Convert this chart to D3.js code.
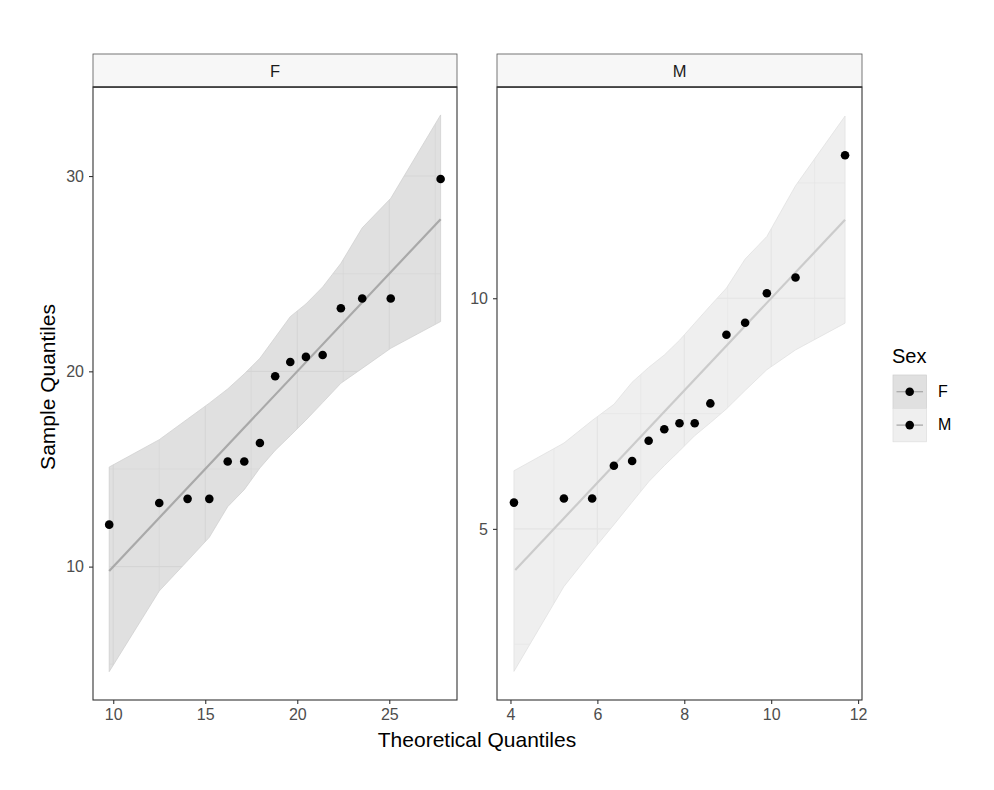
<!DOCTYPE html>
<html>
<head>
<meta charset="utf-8">
<script src="https://cdn.jsdelivr.net/npm/d3@7"></script>
<style>
  body { margin: 0; background: #fff; }
  svg { font-family: "Liberation Sans", Arial, sans-serif; }
</style>
</head>
<body>
<div id="chart"></div>
<script>
'use strict';

// ---- data ----
const facets = ["F", "M"];

const theoF   = [9.78, 12.5, 14.04, 15.22, 16.22, 17.12, 17.97, 18.80, 19.62, 20.47, 21.38, 22.37, 23.53, 25.08, 27.79];
const sampleF = [12.15, 13.26, 13.47, 13.47, 15.38, 15.38, 16.33, 19.75, 20.48, 20.74, 20.84, 23.23, 23.73, 23.73, 29.85];
const upperF  = [15.1, 16.5, 17.56, 18.37, 19.1, 19.87, 20.67, 21.74, 22.8, 23.45, 24.32, 25.53, 27.35, 28.86, 33.13];
const lowerF  = [4.62, 8.75, 10.3, 11.5, 13.07, 13.94, 15.05, 15.95, 16.7, 17.5, 18.4, 19.39, 20.15, 21.18, 22.55];
const lineF   = [9.78, 27.79];

const theoM   = [4.08, 5.23, 5.88, 6.38, 6.80, 7.18, 7.54, 7.89, 8.24, 8.60, 8.97, 9.40, 9.90, 10.56, 11.70];
const sampleM = [5.57, 5.66, 5.66, 6.37, 6.47, 6.91, 7.16, 7.29, 7.29, 7.72, 9.21, 9.47, 10.11, 10.45, 13.10];
const upperM  = [6.26, 6.86, 7.35, 7.7, 8.18, 8.5, 8.77, 9.09, 9.46, 9.84, 10.22, 10.85, 11.34, 12.44, 13.95];
const lowerM  = [1.91, 3.75, 4.52, 5.09, 5.58, 6.02, 6.37, 6.69, 7.02, 7.30, 7.60, 8.0, 8.45, 8.88, 9.46];
const lineM   = [4.11, 11.70];

const xDomainF = [8.9, 28.68],  yDomainF = [3.17, 34.56];
const xDomainM = [3.69, 12.09], yDomainM = [1.29, 14.58];

const xTicksF = [10, 15, 20, 25], yTicksF = [10, 20, 30];
const xMinorF = [12.5, 17.5, 22.5, 27.5], yMinorF = [5, 15, 25];
const xTicksM = [4, 6, 8, 10, 12], yTicksM = [5, 10];
const xMinorM = [5, 7, 9, 11], yMinorM = [2.5, 7.5, 12.5];

const legendLabels = ["F", "M"];

// ---- layout ----
const W = 994, H = 790;
const panelTop = 87, panelBottom = 700, stripTop = 54;

const panels = [
  { name: facets[0], left: 93, right: 457, theo: theoF, sample: sampleF, upper: upperF, lower: lowerF, line: lineF,
    xd: xDomainF, yd: yDomainF, xt: xTicksF, yt: yTicksF, xm: xMinorF, ym: yMinorF,
    fill: "#e0e0e0", edge: "#cdcdcd", lineCol: "#a9a9a9", grid: "#d5d5d5" },
  { name: facets[1], left: 497, right: 862, theo: theoM, sample: sampleM, upper: upperM, lower: lowerM, line: lineM,
    xd: xDomainM, yd: yDomainM, xt: xTicksM, yt: yTicksM, xm: xMinorM, ym: yMinorM,
    fill: "#efefef", edge: "#dedede", lineCol: "#cbcbcb", grid: "#e4e4e4" }
];

const svg = d3.select("#chart").append("svg")
  .attr("width", W)
  .attr("height", H);

svg.append("rect").attr("width", W).attr("height", H).attr("fill", "#fff");

panels.forEach(function (p, i) {
  let x = d3.scaleLinear().domain(p.xd).range([p.left, p.right]);
  let y = d3.scaleLinear().domain(p.yd).range([panelBottom, panelTop]);

  let rows = p.theo.map((t, j) => ({ t: t, s: p.sample[j], hi: p.upper[j], lo: p.lower[j] }));

  let area = d3.area()
    .x(d => x(d.t))
    .y0(d => y(d.lo))
    .y1(d => y(d.hi));

  // confidence band
  svg.append("path")
    .attr("d", area(rows))
    .attr("fill", p.fill)
    .attr("stroke", p.edge)
    .attr("stroke-width", 0.7);

  // grid is only visible inside the band
  let clipId = "band" + i;
  svg.append("clipPath").attr("id", clipId)
    .append("path").attr("d", area(rows));

  let grid = svg.append("g").attr("clip-path", "url(#" + clipId + ")")
    .attr("stroke", p.grid);

  grid.selectAll(".vminor").data(p.xm).enter().append("line")
    .attr("x1", d => x(d)).attr("x2", d => x(d))
    .attr("y1", panelTop).attr("y2", panelBottom)
    .attr("stroke-width", 0.6);
  grid.selectAll(".hminor").data(p.ym).enter().append("line")
    .attr("y1", d => y(d)).attr("y2", d => y(d))
    .attr("x1", p.left).attr("x2", p.right)
    .attr("stroke-width", 0.6);
  grid.selectAll(".vmajor").data(p.xt).enter().append("line")
    .attr("x1", d => x(d)).attr("x2", d => x(d))
    .attr("y1", panelTop).attr("y2", panelBottom)
    .attr("stroke-width", 1.1);
  grid.selectAll(".hmajor").data(p.yt).enter().append("line")
    .attr("y1", d => y(d)).attr("y2", d => y(d))
    .attr("x1", p.left).attr("x2", p.right)
    .attr("stroke-width", 1.1);

  // reference line
  svg.append("line")
    .attr("x1", x(p.line[0])).attr("y1", y(p.line[0]))
    .attr("x2", x(p.line[1])).attr("y2", y(p.line[1]))
    .attr("stroke", p.lineCol)
    .attr("stroke-width", 2.2);

  // points
  svg.append("g").selectAll("circle")
    .data(rows)
    .enter().append("circle")
    .attr("cx", d => x(d.t))
    .attr("cy", d => y(d.s))
    .attr("r", 4.3)
    .attr("fill", "#000");

  // panel border
  svg.append("rect")
    .attr("x", p.left).attr("y", panelTop)
    .attr("width", p.right - p.left).attr("height", panelBottom - panelTop)
    .attr("fill", "none").attr("stroke", "#333").attr("stroke-width", 1.1);

  // strip
  svg.append("rect")
    .attr("x", p.left).attr("y", stripTop)
    .attr("width", p.right - p.left).attr("height", panelTop - stripTop)
    .attr("fill", "#f7f7f7").attr("stroke", "#555").attr("stroke-width", 0.8);
  svg.append("line")
    .attr("x1", p.left).attr("x2", p.right)
    .attr("y1", panelTop).attr("y2", panelTop)
    .attr("stroke", "#333").attr("stroke-width", 1.6);
  svg.append("text")
    .attr("x", (p.left + p.right) / 2)
    .attr("y", (stripTop + panelTop) / 2 + 6)
    .attr("text-anchor", "middle")
    .attr("fill", "#1a1a1a")
    .style("font-size", "16.5px")
    .text(p.name);

  // axes
  let xAxis = d3.axisBottom(x).tickValues(p.xt).tickSize(4).tickPadding(5).tickFormat(d3.format("d"));
  let yAxis = d3.axisLeft(y).tickValues(p.yt).tickSize(4).tickPadding(5).tickFormat(d3.format("d"));

  let gx = svg.append("g")
    .attr("class", "x axis")
    .attr("transform", "translate(0," + panelBottom + ")")
    .call(xAxis);
  let gy = svg.append("g")
    .attr("class", "y axis")
    .attr("transform", "translate(" + p.left + ",0)")
    .call(yAxis);

  [gx, gy].forEach(function (g) {
    g.attr("font-size", null).attr("font-family", null);
    g.select(".domain").remove();
    g.selectAll(".tick line").attr("stroke", "#333").attr("stroke-width", 1.1);
    g.selectAll(".tick text")
      .attr("fill", "#4d4d4d")
      .style("font-size", "16px")
      .style("font-family", "'Liberation Sans', Arial, sans-serif");
  });
});

// axis titles
svg.append("text")
  .attr("x", 477)
  .attr("y", 747)
  .attr("text-anchor", "middle")
  .attr("fill", "#000")
  .style("font-size", "21px")
  .text("Theoretical Quantiles");

svg.append("text")
  .attr("transform", "translate(55,387) rotate(-90)")
  .attr("text-anchor", "middle")
  .attr("fill", "#000")
  .style("font-size", "21px")
  .text("Sample Quantiles");

// legend
let legend = svg.append("g").attr("transform", "translate(893,363)");
legend.append("text")
  .attr("x", -1).attr("y", 0)
  .attr("fill", "#000")
  .style("font-size", "20px")
  .text("Sex");

legendLabels.forEach(function (lab, i) {
  let p = panels[i];
  let ky = 12 + i * 33.4;
  legend.append("rect")
    .attr("x", 0).attr("y", ky)
    .attr("width", 33.4).attr("height", 33.4)
    .attr("fill", p.fill)
    .attr("stroke", p.edge).attr("stroke-width", 0.7);
  legend.append("line")
    .attr("x1", 3.5).attr("x2", 30)
    .attr("y1", ky + 16.7).attr("y2", ky + 16.7)
    .attr("stroke", "#a9a9a9").attr("stroke-width", 1.3);
  legend.append("circle")
    .attr("cx", 16.7).attr("cy", ky + 16.7)
    .attr("r", 4.3).attr("fill", "#000");
  legend.append("text")
    .attr("x", 45).attr("y", ky + 22)
    .attr("fill", "#000")
    .style("font-size", "16px")
    .text(lab);
});
</script>
</body>
</html>
